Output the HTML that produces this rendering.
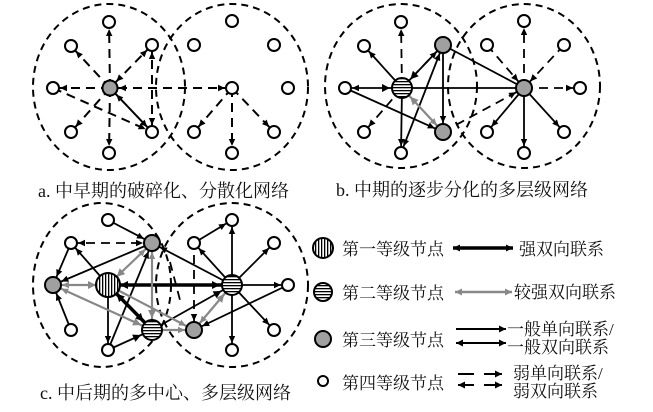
<!DOCTYPE html>
<html><head><meta charset="utf-8"><style>
html,body{margin:0;padding:0;background:#fff;}
svg{display:block}
text{font-family:"Liberation Serif","Noto Serif CJK SC","Noto Sans CJK SC",serif;fill:#111}
</style></head><body>
<svg width="653" height="412" viewBox="0 0 653 412" xmlns="http://www.w3.org/2000/svg">
<defs>
<marker id="a5" markerUnits="userSpaceOnUse" viewBox="-15 -4 15 8" refX="0" refY="0" markerWidth="15" markerHeight="8" orient="auto-start-reverse"><path d="M-14,-3.2 L-7,0 L-14,3.2z" fill="#000"/></marker>
<marker id="a8" markerUnits="userSpaceOnUse" viewBox="-17 -4 17 8" refX="0" refY="0" markerWidth="17" markerHeight="8" orient="auto-start-reverse"><path d="M-16,-3.2 L-9,0 L-16,3.2z" fill="#000"/></marker>
<marker id="a11" markerUnits="userSpaceOnUse" viewBox="-21 -5 21 10" refX="0" refY="0" markerWidth="21" markerHeight="10" orient="auto-start-reverse"><path d="M-20,-4 L-12,0 L-20,4z" fill="#000"/></marker>
<marker id="g5" markerUnits="userSpaceOnUse" viewBox="-15 -4 15 8" refX="0" refY="0" markerWidth="15" markerHeight="8" orient="auto-start-reverse"><path d="M-14,-3.2 L-7,0 L-14,3.2z" fill="#888"/></marker>
<marker id="g8" markerUnits="userSpaceOnUse" viewBox="-17 -4 17 8" refX="0" refY="0" markerWidth="17" markerHeight="8" orient="auto-start-reverse"><path d="M-16,-3.2 L-9,0 L-16,3.2z" fill="#888"/></marker>
<marker id="g11" markerUnits="userSpaceOnUse" viewBox="-21 -5 21 10" refX="0" refY="0" markerWidth="21" markerHeight="10" orient="auto-start-reverse"><path d="M-20,-4 L-12,0 L-20,4z" fill="#888"/></marker>
<marker id="t" markerUnits="userSpaceOnUse" viewBox="-8 -4 8 8" refX="0" refY="0" markerWidth="8" markerHeight="8" orient="auto-start-reverse"><path d="M-7,-3.5 L0,0 L-7,3.5z" fill="#000"/></marker>
<marker id="tg" markerUnits="userSpaceOnUse" viewBox="-8 -4 8 8" refX="0" refY="0" markerWidth="8" markerHeight="8" orient="auto-start-reverse"><path d="M-7,-3.5 L0,0 L-7,3.5z" fill="#888"/></marker>
<pattern id="vs" width="3" height="3" patternUnits="userSpaceOnUse"><rect width="3" height="3" fill="#fff"/><rect width="1.3" height="3" fill="#000"/></pattern>
<pattern id="hs" width="3" height="3" patternUnits="userSpaceOnUse"><rect width="3" height="3" fill="#fff"/><rect width="3" height="1.3" fill="#000"/></pattern>
</defs>

<g fill="none" stroke="#000" stroke-width="2" stroke-dasharray="7 5">
<ellipse cx="109" cy="87" rx="76" ry="83"/>
<ellipse cx="232" cy="87" rx="76" ry="83"/>
<ellipse cx="401" cy="86" rx="76" ry="82"/>
<ellipse cx="524" cy="86" rx="76" ry="82"/>
<ellipse cx="102" cy="285" rx="69" ry="82"/>
<ellipse cx="232" cy="285" rx="76" ry="82"/>
</g>

<!-- Panel a -->
<g stroke="#000" stroke-width="2" fill="none">
<g stroke-dasharray="9 6">
<line x1="110" y1="88" x2="109" y2="22" marker-end="url(#a5)"/>
<line x1="110" y1="88" x2="71" y2="46" marker-end="url(#a5)"/>
<line x1="152" y1="45" x2="110" y2="88" marker-end="url(#a8)" marker-start="url(#a5)"/>
<line x1="110" y1="88" x2="53" y2="88" marker-end="url(#a5)"/>
<line x1="110" y1="88" x2="71" y2="132" marker-end="url(#a5)"/>
<line x1="110" y1="88" x2="109" y2="153" marker-end="url(#a5)"/>
<line x1="232" y1="88" x2="110" y2="88" marker-end="url(#a8)" marker-start="url(#a5)"/>
<line x1="152" y1="45" x2="152" y2="132" marker-start="url(#a5)" marker-end="url(#a5)"/>
<line x1="53" y1="88" x2="152" y2="132" marker-end="url(#a5)"/>
<line x1="232" y1="88" x2="194" y2="132" marker-end="url(#a5)"/>
<line x1="232" y1="88" x2="232" y2="153" marker-end="url(#a5)"/>
<line x1="232" y1="88" x2="274" y2="132" marker-end="url(#a5)"/>
</g>
<line x1="110" y1="88" x2="152" y2="132" marker-start="url(#a8)" marker-end="url(#a5)"/>
</g>
<g stroke="#000" stroke-width="2" fill="#fff">
<circle cx="110" cy="88" r="7.5" fill="#a0a0a0"/>
<circle cx="109" cy="22" r="6"/><circle cx="71" cy="46" r="6"/><circle cx="152" cy="45" r="6"/>
<circle cx="53" cy="88" r="6"/><circle cx="71" cy="132" r="6"/><circle cx="152" cy="132" r="6"/><circle cx="109" cy="153" r="6"/>
<circle cx="232" cy="21" r="6"/><circle cx="194" cy="45" r="6"/><circle cx="274" cy="45" r="6"/>
<circle cx="232" cy="88" r="6"/><circle cx="288" cy="88" r="6"/><circle cx="194" cy="132" r="6"/>
<circle cx="274" cy="132" r="6"/><circle cx="232" cy="153" r="6"/>
</g>
<text x="38" y="197" font-size="18">a. 中早期的破碎化、分散化网络</text>

<!-- Panel b -->
<g stroke="#000" stroke-width="1.8" fill="none">
<line x1="402" y1="88" x2="345" y2="88" marker-start="url(#a11)" marker-end="url(#a5)"/>
<line x1="402" y1="88" x2="364" y2="46" marker-end="url(#a5)"/>
<line x1="402" y1="88" x2="401" y2="153" marker-end="url(#a5)"/>
<line x1="402" y1="88" x2="524" y2="88"/>
<line x1="443" y1="45" x2="402" y2="88" marker-end="url(#a11)"/>
<line x1="443" y1="45" x2="443" y2="132" marker-end="url(#a8)"/>
<line x1="443" y1="45" x2="401" y2="153" marker-start="url(#a8)" marker-end="url(#a5)"/>
<line x1="345" y1="88" x2="443" y2="132" marker-end="url(#a8)"/>
<line x1="443" y1="45" x2="524" y2="88"/>
<line x1="524" y1="88" x2="487" y2="132" marker-end="url(#a5)"/>
<line x1="524" y1="88" x2="524" y2="153" marker-end="url(#a5)"/>
<line x1="524" y1="88" x2="564" y2="132" marker-end="url(#a5)"/>
<g stroke-dasharray="9 6">
<line x1="402" y1="88" x2="401" y2="22" marker-end="url(#a5)"/>
<line x1="402" y1="88" x2="443" y2="45" marker-end="url(#a8)"/>
<line x1="402" y1="88" x2="364" y2="132" marker-end="url(#a5)"/>
<line x1="524" y1="88" x2="524" y2="21" marker-end="url(#a5)"/>
<line x1="487" y1="45" x2="524" y2="88" marker-end="url(#a8)"/>
<line x1="564" y1="45" x2="524" y2="88" marker-end="url(#a8)"/>
<line x1="524" y1="88" x2="580" y2="88" marker-end="url(#a5)"/>
<line x1="443" y1="132" x2="524" y2="88" marker-end="url(#a8)"/>
</g>
<line x1="402" y1="88" x2="443" y2="132" stroke="#888" stroke-width="2.2" marker-start="url(#g11)" marker-end="url(#g8)"/>
</g>
<g stroke="#000" stroke-width="2" fill="#fff">
<circle cx="402" cy="88" r="10" fill="url(#hs)"/>
<circle cx="443" cy="45" r="8" fill="#a0a0a0"/><circle cx="443" cy="132" r="8" fill="#a0a0a0"/>
<circle cx="524" cy="88" r="8" fill="#a0a0a0"/>
<circle cx="401" cy="22" r="6"/><circle cx="364" cy="46" r="6"/><circle cx="345" cy="88" r="6"/>
<circle cx="364" cy="132" r="6"/><circle cx="401" cy="153" r="6"/>
<circle cx="524" cy="21" r="6"/><circle cx="487" cy="45" r="6"/><circle cx="564" cy="45" r="6"/>
<circle cx="580" cy="88" r="6"/><circle cx="487" cy="132" r="6"/><circle cx="564" cy="132" r="6"/><circle cx="524" cy="153" r="6"/>
</g>
<text x="336" y="196" font-size="18">b. 中期的逐步分化的多层级网络</text>

<!-- Panel c -->
<g stroke="#000" stroke-width="1.8" fill="none">
<line x1="108" y1="285" x2="71" y2="243" marker-end="url(#a5)"/>
<line x1="108" y1="285" x2="108" y2="350" marker-end="url(#a5)"/>
<line x1="108" y1="220" x2="152" y2="243" marker-end="url(#a8)"/>
<line x1="152" y1="243" x2="53" y2="285" marker-end="url(#a8)"/>
<line x1="71" y1="243" x2="53" y2="285" marker-end="url(#a8)"/>
<line x1="71" y1="330" x2="53" y2="285" marker-end="url(#a8)"/>
<line x1="108" y1="350" x2="152" y2="243" marker-end="url(#a8)"/>
<line x1="108" y1="350" x2="152" y2="330" marker-end="url(#a11)"/>
<line x1="232" y1="285" x2="152" y2="243" marker-end="url(#a8)"/>
<line x1="232" y1="285" x2="232" y2="220" marker-end="url(#a5)"/>
<line x1="232" y1="285" x2="194" y2="243" marker-end="url(#a5)"/>
<line x1="232" y1="285" x2="274" y2="243" marker-end="url(#a5)"/>
<line x1="232" y1="285" x2="288" y2="285" marker-end="url(#a5)"/>
<line x1="232" y1="285" x2="274" y2="330" marker-end="url(#a5)"/>
<line x1="232" y1="285" x2="232" y2="350" marker-end="url(#a5)"/>
<line x1="152" y1="330" x2="232" y2="285" marker-end="url(#a11)"/>
<line x1="288" y1="285" x2="194" y2="330" marker-end="url(#a8)"/>
<line x1="194" y1="243" x2="232" y2="220" marker-end="url(#a5)"/>
<line x1="108" y1="285" x2="232" y2="285" stroke-width="3.5" marker-start="url(#a11)" marker-end="url(#a11)"/>
<line x1="108" y1="285" x2="152" y2="330" stroke-width="3.5" marker-start="url(#a11)" marker-end="url(#a11)"/>
<g stroke-dasharray="9 6">
<line x1="71" y1="243" x2="152" y2="243" marker-start="url(#a5)" marker-end="url(#a8)"/>
<line x1="194" y1="255" x2="194" y2="330" marker-end="url(#a8)"/>
<line x1="170" y1="262" x2="180" y2="300"/>
</g>
<line x1="108" y1="285" x2="53" y2="285" stroke="#888" stroke-width="2.2" marker-start="url(#g11)" marker-end="url(#g8)"/>
<line x1="108" y1="285" x2="152" y2="243" stroke="#888" stroke-width="2.2" marker-start="url(#g11)" marker-end="url(#g8)"/>
<line x1="53" y1="285" x2="152" y2="330" stroke="#888" stroke-width="2.2" marker-start="url(#g8)" marker-end="url(#g11)"/>
<line x1="152" y1="243" x2="152" y2="330" stroke="#888" stroke-width="2.2" marker-start="url(#g8)" marker-end="url(#g11)"/>
<line x1="108" y1="285" x2="194" y2="330" stroke="#888" stroke-width="2.2" marker-end="url(#g8)"/>
<line x1="152" y1="330" x2="194" y2="330" stroke="#888" stroke-width="2.2" marker-end="url(#g8)"/>
<line x1="194" y1="330" x2="232" y2="285" stroke="#888" stroke-width="2.2" marker-start="url(#g8)" marker-end="url(#g11)"/>
</g>
<g stroke="#000" stroke-width="2" fill="#fff">
<circle cx="108" cy="285" r="12" fill="url(#vs)"/>
<circle cx="152" cy="330" r="10" fill="url(#hs)"/>
<circle cx="232" cy="285" r="10" fill="url(#hs)"/>
<circle cx="152" cy="243" r="8" fill="#a0a0a0"/><circle cx="53" cy="285" r="8" fill="#a0a0a0"/><circle cx="194" cy="330" r="8" fill="#a0a0a0"/>
<circle cx="108" cy="220" r="6"/><circle cx="71" cy="243" r="6"/><circle cx="71" cy="330" r="6"/><circle cx="108" cy="350" r="6"/>
<circle cx="232" cy="220" r="6"/><circle cx="194" cy="243" r="6"/><circle cx="274" cy="243" r="6"/>
<circle cx="288" cy="285" r="6"/><circle cx="274" cy="330" r="6"/><circle cx="232" cy="350" r="6"/>
</g>
<text x="40" y="399" font-size="18">c. 中后期的多中心、多层级网络</text>

<!-- Legend -->
<g stroke="#000" stroke-width="2">
<circle cx="323" cy="248" r="10" fill="url(#vs)"/>
<circle cx="323" cy="292" r="9" fill="url(#hs)"/>
<circle cx="323" cy="339" r="8" fill="#a0a0a0"/>
<circle cx="323" cy="381" r="5" fill="#fff"/>
<line x1="453" y1="248" x2="513" y2="248" stroke-width="3.5" marker-start="url(#t)" marker-end="url(#t)"/>
<line x1="455" y1="292" x2="512" y2="292" stroke="#888" stroke-width="2.5" marker-start="url(#tg)" marker-end="url(#tg)"/>
<line x1="456" y1="329" x2="506" y2="329" marker-end="url(#t)"/>
<line x1="456" y1="343" x2="506" y2="343" marker-start="url(#t)" marker-end="url(#t)"/>
<line x1="458" y1="374" x2="474" y2="374"/>
<line x1="458" y1="385" x2="474" y2="385" marker-start="url(#t)"/>
<line x1="484" y1="374" x2="502" y2="374" marker-end="url(#t)"/>
<line x1="484" y1="385" x2="502" y2="385" marker-end="url(#t)"/>
</g>
<g font-size="17">
<text x="342" y="255">第一等级节点</text>
<text x="342" y="299">第二等级节点</text>
<text x="342" y="346">第三等级节点</text>
<text x="342" y="389">第四等级节点</text>
<text x="519" y="255">强双向联系</text>
<text x="514" y="298">较强双向联系</text>
<text x="507" y="335">一般单向联系/</text>
<text x="507" y="353">一般双向联系</text>
<text x="513" y="379">弱单向联系/</text>
<text x="513" y="397">弱双向联系</text>
</g>
</svg>
</body></html>
